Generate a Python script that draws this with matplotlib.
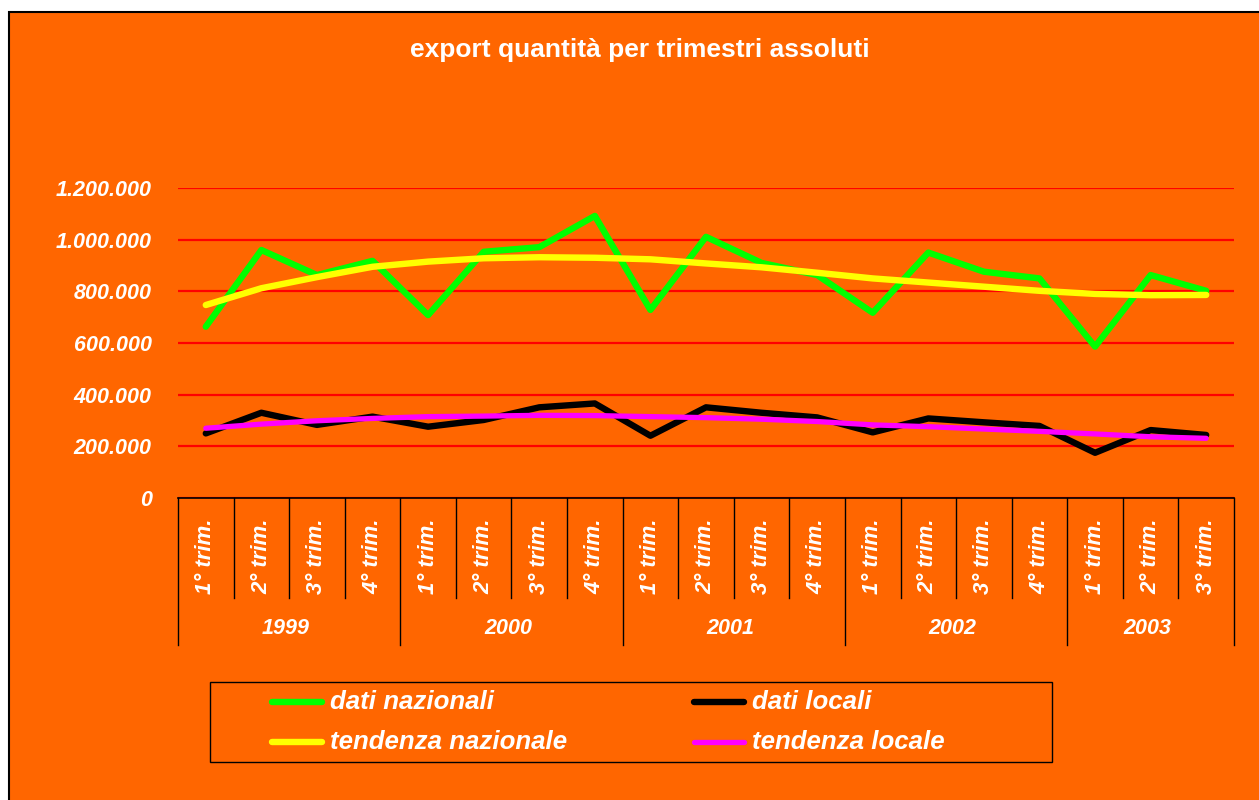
import matplotlib
matplotlib.use("Agg")
import matplotlib.pyplot as plt
from matplotlib.patches import Rectangle
from matplotlib.lines import Line2D
import matplotlib.transforms as mtransforms

plt.rcParams['font.family'] = ['Liberation Sans', 'DejaVu Sans']

# data
trimestri = ["1° trim.", "2° trim.", "3° trim.", "4° trim."] * 4 + ["1° trim.", "2° trim.", "3° trim."]
anni = ["1999", "2000", "2001", "2002", "2003"]
trim_per_anno = [4, 4, 4, 4, 3]

dati_nazionali = [663000, 960000, 863000, 918000, 708000, 953000, 971000, 1092000, 728000, 1011000,
                  910000, 863000, 717000, 950000, 876000, 850000, 586000, 863000, 802000]
dati_locali = [250000, 330000, 283000, 315000, 276000, 302000, 351000, 366000, 241000, 351000,
               330000, 312000, 254000, 308000, 293000, 279000, 175000, 263000, 244000]
tendenza_nazionale = [747000, 812000, 855000, 895000, 915000, 928000, 932000, 930000, 924000, 908000,
                      893000, 872000, 850000, 834000, 818000, 802000, 790000, 785000, 786000]
tendenza_locale = [270000, 286000, 299000, 308000, 315000, 317000, 320000, 319000, 315000, 311000,
                   305000, 296000, 283000, 276000, 267000, 258000, 248000, 237000, 231000]

ORANGE = "#FF6600"
W, H = 1259, 800

fig = plt.figure(figsize=(W / 100, H / 100), dpi=100, facecolor="white")

# orange chart area with black top/left border
fig.patches.append(Rectangle((9 / W, -0.01), 1.02, 1 - 12 / H + 0.01, transform=fig.transFigure,
                             facecolor=ORANGE, edgecolor="black", lw=1.5, zorder=-10))

fig.text(640 / W, 1 - 50 / H, "export quantità per trimestri assoluti", color="white",
         fontsize=19, fontweight="bold", ha="center", va="center")

left, right, top, bottom = 178, 1234, 188, 498
ax = fig.add_axes([left / W, 1 - bottom / H, (right - left) / W, (bottom - top) / H])
ax.set_facecolor(ORANGE)
ax.patch.set_alpha(0)

x = list(range(len(trimestri)))
ax.plot(x, dati_nazionali, color="#00FF00", lw=4.6, solid_capstyle="round", zorder=3)
ax.plot(x, dati_locali, color="black", lw=4.6, solid_capstyle="round", zorder=3)
ax.plot(x, tendenza_nazionale, color="#FFFF00", lw=4.6, solid_capstyle="round", zorder=4)
ax.plot(x, tendenza_locale, color="#FF00FF", lw=3.8, solid_capstyle="round", zorder=4)

ax.set_xlim(-0.5, len(trimestri) - 0.5)
ax.set_ylim(0, 1200000)
yt = list(range(0, 1200001, 200000))
ax.set_yticks(yt)
ax.set_yticklabels([f"{v:,.0f}".replace(",", ".") for v in yt], color="white",
                   fontsize=15.5, fontweight="bold", fontstyle="italic")
ax.tick_params(axis="y", length=0, pad=19)
ax.set_xticks([])
ax.yaxis.grid(True, color="#FF0000", lw=1.6)
ax.set_axisbelow(True)
for s in ["left", "right", "top"]:
    ax.spines[s].set_visible(False)
ax.spines["bottom"].set_color("black")
ax.spines["bottom"].set_linewidth(1.2)
ax.spines["bottom"].set_zorder(5)

# two-level category axis
trans = mtransforms.blended_transform_factory(ax.transData, ax.transAxes)
h = bottom - top
q_low = -(598 - bottom) / h
y_low = -(645 - bottom) / h
bounds = [-0.5]
for n in trim_per_anno:
    bounds.append(bounds[-1] + n)
for k in range(len(trimestri) + 1):
    xs = k - 0.5
    ylow = y_low if xs in bounds else q_low
    ax.plot([xs, xs], [0, ylow], color="black", lw=1.0, transform=trans, clip_on=False)
for i, lab in enumerate(trimestri):
    ax.text(i, -(556 - bottom) / h, lab, transform=trans, rotation=90, ha="center", va="center",
            color="white", fontsize=16, fontweight="bold", fontstyle="italic")
for j, anno in enumerate(anni):
    ax.text((bounds[j] + bounds[j + 1]) / 2 - 0.06, -(629 - bottom) / h, anno, transform=trans,
            ha="center", va="center", color="white", fontsize=15.5, fontweight="bold", fontstyle="italic")

# legend box
fig.patches.append(Rectangle((210 / W, 1 - 762 / H), (1052 - 210) / W, 80 / H, transform=fig.transFigure,
                             facecolor="none", edgecolor="black", lw=1.0, zorder=2))
leg = [("dati nazionali", "#00FF00", 272, 702, 4.6), ("tendenza nazionale", "#FFFF00", 272, 742, 4.6),
       ("dati locali", "black", 694, 702, 4.6), ("tendenza locale", "#FF00FF", 694, 742, 3.8)]
for lab, col, lx, ly, lw in leg:
    fig.add_artist(Line2D([lx / W, (lx + 50) / W], [1 - ly / H, 1 - ly / H], transform=fig.transFigure,
                          color=col, lw=lw, solid_capstyle="round"))
    fig.text((lx + 58) / W, 1 - ly / H, lab, color="white", fontsize=18.6, fontweight="bold",
             fontstyle="italic", ha="left", va="center")

fig.savefig("out.png", dpi=100, facecolor=fig.get_facecolor())
